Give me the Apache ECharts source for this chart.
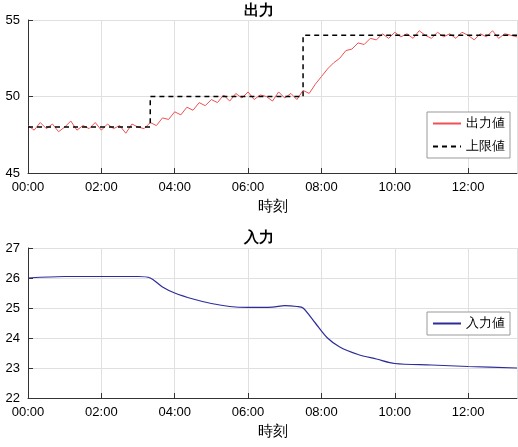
<!DOCTYPE html><html><head><meta charset="utf-8"><script src="https://cdn.jsdelivr.net/npm/echarts@6/dist/echarts.min.js"></script>
<style>body{margin:0}#c{width:518px;height:447px}</style></head><body><div id="c"></div><script>
const minutes=[];for(let i=0;i<=80;i++)minutes.push(i*10);
const outputVals=[48.1,47.8,48.3,47.9,48.2,47.7,48.0,48.4,47.8,48.1,
47.9,48.3,47.8,48.2,47.9,48.1,47.6,48.2,48.0,47.9,
48.3,48.1,48.6,48.5,49.0,48.8,49.3,49.1,49.6,49.4,
49.8,49.6,50.1,49.7,50.2,49.9,50.3,49.8,50.1,50.0,
49.7,50.3,49.9,50.2,49.8,50.4,50.2,50.8,51.3,51.8,
52.2,52.5,53.0,53.1,53.5,53.4,53.8,53.7,54.1,53.8,
54.2,53.9,54.1,53.8,54.3,54.0,53.8,54.2,53.9,54.1,
53.8,54.2,54.0,53.7,54.1,53.9,54.3,53.8,54.1,54.0,53.9];
const limitPts=[[0,48],[200,48],[200,50],[450,50],[450,54],[800,54]];
const inputT=[0,60,120,180,200,220,240,270,300,330,360,400,420,440,450,470,490,510,540,570,600,660,720,800];
const inputV=[26.0,26.05,26.05,26.05,26.0,25.7,25.5,25.3,25.15,25.05,25.02,25.03,25.08,25.05,25.0,24.5,24.0,23.7,23.45,23.3,23.15,23.1,23.05,23.0];
const fmt=v=>String(Math.floor(v/60)).padStart(2,'0')+':'+String(v%60).padStart(2,'0');
const ax={type:'value',min:0,max:800,interval:120,name:'時刻',nameLocation:'middle',nameGap:26,
nameTextStyle:{fontSize:15,color:'#000'},axisLabel:{formatter:fmt,fontSize:13,color:'#000',showMaxLabel:false},
axisLine:{lineStyle:{color:'#333'}},axisTick:{inside:true},splitLine:{lineStyle:{color:'#e0e0e0'}}};
const ay=(mn,mx,iv)=>({type:'value',min:mn,max:mx,interval:iv,axisLabel:{fontSize:13,color:'#000'},
axisLine:{show:true,lineStyle:{color:'#333'}},axisTick:{inside:true},splitLine:{lineStyle:{color:'#e0e0e0'}}});
const ch=echarts.init(document.getElementById('c'));
ch.setOption({animation:false,
title:[{text:'出力',left:'center',top:-2,textStyle:{fontSize:15,fontWeight:'bold',color:'#000'}},
{text:'入力',left:'center',top:225,textStyle:{fontSize:15,fontWeight:'bold',color:'#000'}}],
grid:[{left:28,right:1,top:20,height:153},{left:28,right:1,top:248,height:150}],
xAxis:[Object.assign({gridIndex:0},ax),Object.assign({gridIndex:1},ax)],
yAxis:[Object.assign({gridIndex:0},ay(45,55,5)),Object.assign({gridIndex:1},ay(22,27,1))],
legend:[{data:['出力値','上限値'],orient:'vertical',right:8,top:112,itemGap:10,backgroundColor:'#fff',borderColor:'#999',borderWidth:1,textStyle:{fontSize:13,color:'#000'},itemWidth:28,itemStyle:{opacity:0}},
{data:['入力値'],right:8,top:312,backgroundColor:'#fff',borderColor:'#999',borderWidth:1,textStyle:{fontSize:13,color:'#000'},itemWidth:28,itemStyle:{opacity:0}}],
series:[
{name:'出力値',type:'line',xAxisIndex:0,yAxisIndex:0,symbol:'none',data:minutes.map((t,i)=>[t,outputVals[i]]),lineStyle:{color:'#f05050',width:1},itemStyle:{color:'#f05050'}},
{name:'上限値',type:'line',xAxisIndex:0,yAxisIndex:0,symbol:'none',data:limitPts,lineStyle:{color:'#000',width:1.5,type:[5,4]},itemStyle:{color:'#000'}},
{name:'入力値',type:'line',xAxisIndex:1,yAxisIndex:1,symbol:'none',data:inputT.map((t,i)=>[t,inputV[i]]),smooth:0.3,lineStyle:{color:'#2d2d9a',width:1.2},itemStyle:{color:'#2d2d9a'}}
]});
</script></body></html>
